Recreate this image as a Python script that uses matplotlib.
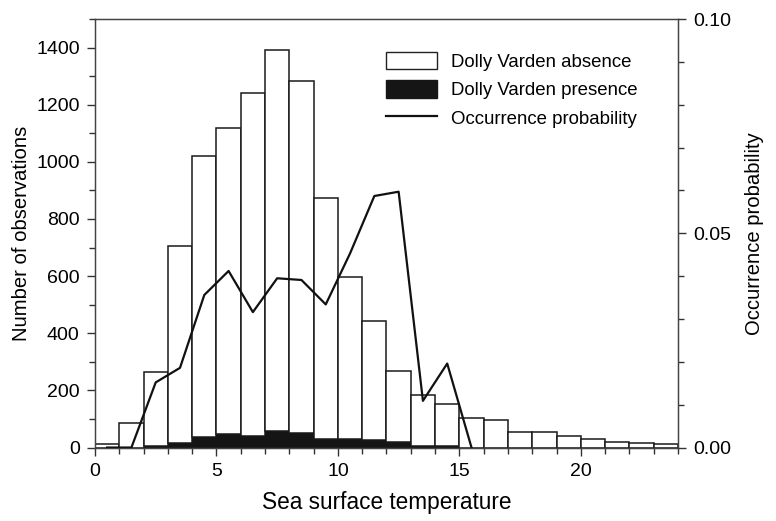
import numpy as np
import matplotlib
matplotlib.use('Agg')
from matplotlib import pyplot as plt
from matplotlib.ticker import MultipleLocator, FormatStrFormatter
from matplotlib.patches import Patch
from matplotlib.lines import Line2D

plt.rcParams['font.family'] = ['Liberation Sans', 'DejaVu Sans']

# temperature bins (left edges, width 1)
bin_left = list(range(0, 24))
total_obs = [13, 85, 265, 705, 1020, 1118, 1242, 1393, 1283, 872, 597, 443,
             268, 185, 152, 102, 97, 55, 55, 41, 29, 20, 16, 12]
presence = [0, 0, 4, 16, 37, 48, 41, 58, 51, 30, 30, 27,
            18, 5, 4, 0, 0, 0, 0, 0, 0, 0, 0, 0]
absence = [t - p for t, p in zip(total_obs, presence)]

prob_x = [0.5, 1.5, 2.5, 3.5, 4.5, 5.5, 6.5, 7.5, 8.5, 9.5, 10.5, 11.5,
          12.5, 13.5, 14.5, 15.5]
prob_y = [0.0, 0.0, 0.0152, 0.0186, 0.0356, 0.0412, 0.0316, 0.0395, 0.0391,
          0.0334, 0.0453, 0.0587, 0.0597, 0.0109, 0.0196, 0.0]

fig = plt.figure(figsize=(7.76, 5.21), dpi=100)
ax = fig.add_axes([0.1224, 0.141, 0.7513, 0.8225])

ax.bar(bin_left, presence, width=1, align='edge', color='#151515',
       edgecolor='#151515', linewidth=0.8, zorder=2)
ax.bar(bin_left, absence, width=1, align='edge', bottom=presence,
       color='white', edgecolor='#1a1a1a', linewidth=1.1, zorder=2)

ax.set_xlim(0, 24)
ax.set_ylim(0, 1500)
ax.xaxis.set_major_locator(MultipleLocator(5))
ax.xaxis.set_minor_locator(MultipleLocator(1))
ax.yaxis.set_major_locator(MultipleLocator(200))
ax.yaxis.set_minor_locator(MultipleLocator(100))
ax.tick_params(which='major', length=6, width=1, labelsize=14, pad=5, color='#333333')
ax.tick_params(which='minor', length=4, width=1, color='#333333')
ax.set_xlabel("Sea surface temperature", fontsize=16.3, labelpad=8)
ax.set_ylabel("Number of observations", fontsize=14.6, labelpad=4)
for s in ax.spines.values():
    s.set_color('#444444')
    s.set_linewidth(1.0)

ax2 = ax.twinx()
ax2.plot(prob_x, prob_y, color='#111111', linewidth=1.6, zorder=3)
ax2.set_ylim(0, 0.10)
ax2.yaxis.set_major_locator(MultipleLocator(0.05))
ax2.yaxis.set_minor_locator(MultipleLocator(0.01))
ax2.yaxis.set_major_formatter(FormatStrFormatter('%.2f'))
ax2.tick_params(which='major', length=6, width=1, labelsize=14, pad=5, color='#333333')
ax2.tick_params(which='minor', length=4, width=1, color='#333333')
ax2.set_ylabel("Occurrence probability", fontsize=14.6, labelpad=10)
for s in ax2.spines.values():
    s.set_color('#444444')

handles = [Patch(facecolor='white', edgecolor='#222222', linewidth=1),
           Patch(facecolor='#151515', edgecolor='#151515'),
           Line2D([0], [0], color='#111111', linewidth=1.6)]
labels = ["Dolly Varden absence", "Dolly Varden presence", "Occurrence probability"]
ax2.legend(handles, labels, loc='upper left', bbox_to_anchor=(0.471, 0.962),
           frameon=False, fontsize=13.4, handlelength=2.7, handleheight=1.05,
           labelspacing=0.5, handletextpad=0.8)

plt.savefig('out.png', dpi=100)
